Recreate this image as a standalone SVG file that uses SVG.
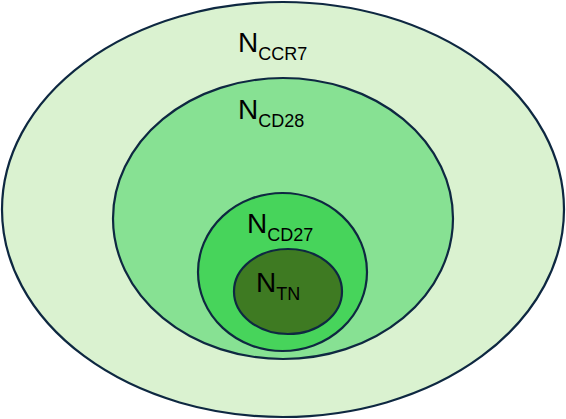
<svg xmlns="http://www.w3.org/2000/svg" width="566" height="419" viewBox="0 0 566 419">
<style>
.e{stroke:#0e2841;stroke-width:2.2}
text{font-family:"Liberation Sans",Arial,sans-serif;fill:#000}
.m{font-size:28px}
.s{font-size:18px}
</style>
<rect width="566" height="419" fill="#fff"/>
<g id="ccr7">
<ellipse class="e" cx="283" cy="209.5" rx="281" ry="207.5" fill="#daf2d0"/>
<text x="238" y="52"><tspan class="m">N</tspan><tspan class="s" dy="8">CCR7</tspan></text>
</g>
<g id="cd28">
<ellipse class="e" cx="283" cy="218.5" rx="170" ry="140.5" fill="#87e193"/>
<text x="238" y="119"><tspan class="m">N</tspan><tspan class="s" dy="8">CD28</tspan></text>
</g>
<g id="cd27">
<ellipse class="e" cx="282.5" cy="272" rx="84.5" ry="79" fill="#47d45b"/>
<text x="247" y="233"><tspan class="m">N</tspan><tspan class="s" dy="8">CD27</tspan></text>
</g>
<g id="tn">
<ellipse class="e" cx="288" cy="291.5" rx="54" ry="42.5" fill="#3e7a22"/>
<text x="256" y="292"><tspan class="m">N</tspan><tspan class="s" dy="8">TN</tspan></text>
</g>
</svg>
